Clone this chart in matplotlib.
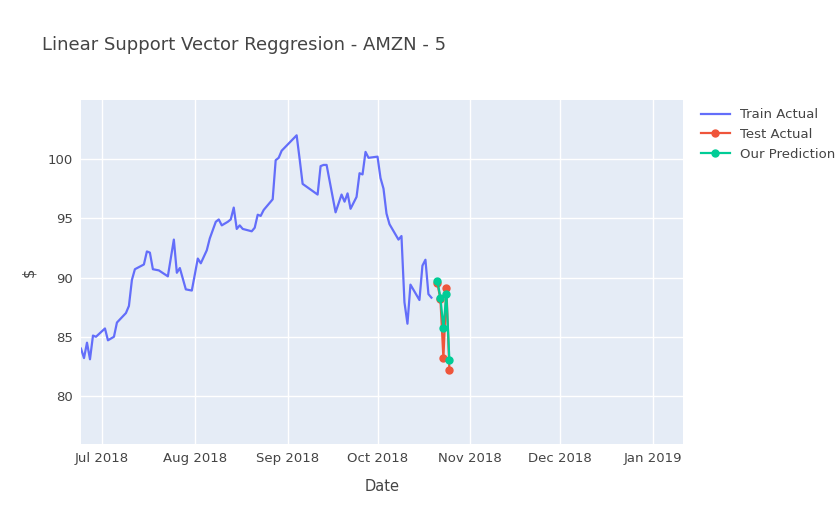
import matplotlib
matplotlib.use("Agg")
import matplotlib.pyplot as plt
import matplotlib.dates as mdates
import pandas as pd

train_dates = ["2018-06-24","2018-06-25","2018-06-26","2018-06-27","2018-06-28","2018-06-29","2018-07-02","2018-07-03","2018-07-05","2018-07-06",
"2018-07-09","2018-07-10","2018-07-11","2018-07-12","2018-07-15","2018-07-16","2018-07-17","2018-07-18","2018-07-20","2018-07-23",
"2018-07-25","2018-07-26","2018-07-27","2018-07-29","2018-07-31","2018-08-02","2018-08-03","2018-08-05","2018-08-06","2018-08-08",
"2018-08-09","2018-08-10","2018-08-12","2018-08-13","2018-08-14","2018-08-15","2018-08-16","2018-08-17","2018-08-20","2018-08-21",
"2018-08-22","2018-08-23","2018-08-24","2018-08-27","2018-08-28","2018-08-29","2018-08-30","2018-09-04","2018-09-05","2018-09-06",
"2018-09-11","2018-09-12","2018-09-13","2018-09-14","2018-09-17","2018-09-19","2018-09-20","2018-09-21","2018-09-22","2018-09-24",
"2018-09-25","2018-09-26","2018-09-27","2018-09-28","2018-10-01","2018-10-02","2018-10-03","2018-10-04","2018-10-05","2018-10-08",
"2018-10-09","2018-10-10","2018-10-11","2018-10-12","2018-10-15","2018-10-16","2018-10-17","2018-10-18","2018-10-19"]
train_vals = [84.0,83.2,84.5,83.1,85.1,85.0,85.7,84.7,85.0,86.2,
87.0,87.6,89.8,90.7,91.1,92.2,92.1,90.7,90.6,90.1,
93.2,90.4,90.8,89.0,88.9,91.6,91.2,92.3,93.3,94.7,
94.9,94.4,94.7,94.9,95.9,94.1,94.4,94.1,93.9,94.2,
95.3,95.2,95.7,96.6,99.9,100.1,100.7,102.0,100.0,97.9,
97.0,99.4,99.5,99.5,95.5,97.0,96.4,97.1,95.8,96.8,
98.8,98.7,100.6,100.1,100.2,98.4,97.5,95.4,94.5,93.2,
93.5,87.9,86.1,89.4,88.1,91.0,91.5,88.6,88.3]
test_dates = ["2018-10-21","2018-10-22","2018-10-23","2018-10-24","2018-10-25"]
test_vals = [89.5,88.2,83.2,89.1,82.2]
pred_vals = [89.7,88.3,85.7,88.6,83.0]

td = pd.to_datetime(train_dates); sd = pd.to_datetime(test_dates)
fig = plt.figure(figsize=(8.38,5.25), dpi=100)
ax = fig.add_axes([81/838, 1-444/525, (683-81)/838, 344/525])
ax.set_facecolor("#E5ECF6")
ax.grid(color="white", linewidth=1); ax.set_axisbelow(True)
for s in ax.spines.values(): s.set_visible(False)
ax.plot(td, train_vals, color="#636EFA", lw=1.6, label="Train Actual")
ax.plot(sd, test_vals, color="#EF553B", lw=1.6, marker="o", ms=5, label="Test Actual")
ax.plot(sd, pred_vals, color="#00CC96", lw=1.6, marker="o", ms=5, label="Our Prediction")
ax.set_xlim(pd.Timestamp("2018-06-24"), pd.Timestamp("2019-01-11"))
ax.set_ylim(75.95, 104.98)
ax.set_yticks([80,85,90,95,100])
ax.xaxis.set_major_locator(mdates.MonthLocator())
ax.xaxis.set_major_formatter(mdates.DateFormatter("%b %Y"))
ax.tick_params(length=0, labelsize=9.5, colors="#444444", pad=6)
ax.set_xlabel("Date", fontsize=10.5, color="#444444", labelpad=10)
ax.set_ylabel("$", fontsize=10.5, color="#444444", labelpad=8)
fig.text(42/838, 1-45/525, "Linear Support Vector Reggresion - AMZN - 5", fontsize=13, color="#444444", va="center")
ax.legend(loc="upper left", bbox_to_anchor=(1.01, 1.01), frameon=False, fontsize=9.5, labelcolor="#444444", handlelength=2.2)
fig.savefig("out.png", dpi=100)
